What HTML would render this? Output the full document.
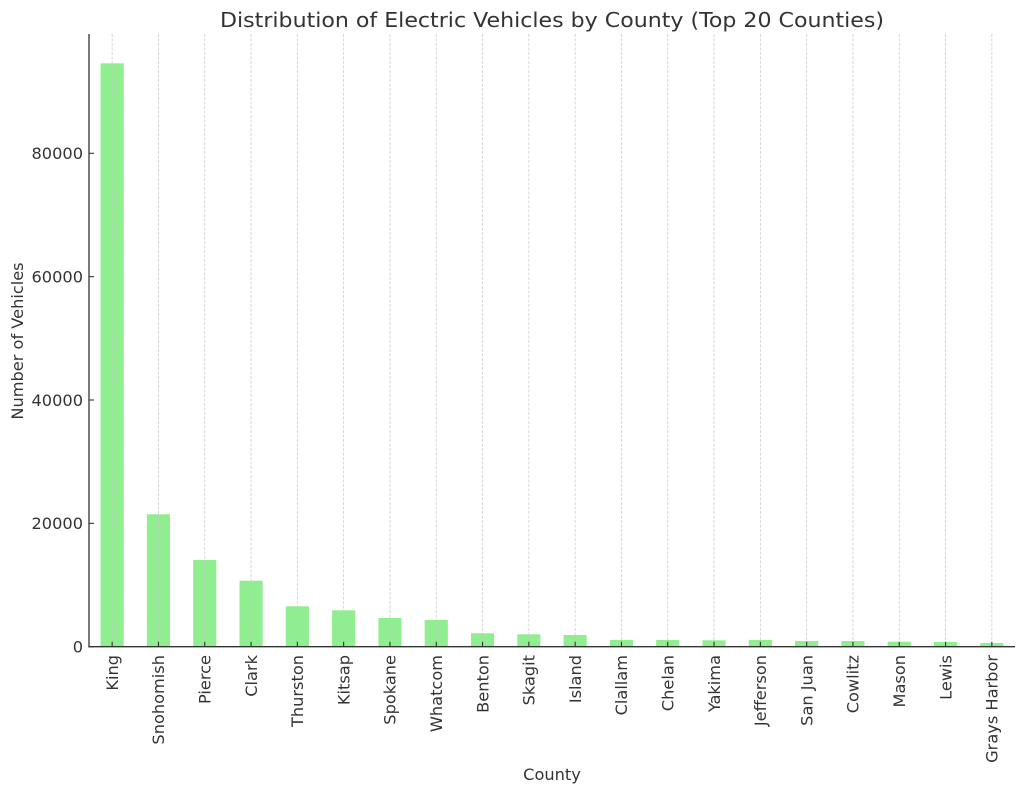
<!DOCTYPE html>
<html>
<head>
<meta charset="utf-8">
<style>
  html, body { margin:0; padding:0; background:#fff; }
  svg { display:block; }
  text { font-family: "DejaVu Sans", "Liberation Sans", sans-serif; fill:#333; }
</style>
</head>
<body>
<svg width="1024" height="794" viewBox="0 0 1024 794" xmlns="http://www.w3.org/2000/svg">
  <rect width="1024" height="794" fill="#fff"/>

  <!-- Title -->
  <text x="552" y="27" font-size="20.4" text-anchor="middle" textLength="664" lengthAdjust="spacingAndGlyphs">Distribution of Electric Vehicles by County (Top 20 Counties)</text>

  <!-- Bars -->
  <g fill="#90EE90">
    <rect x="100.58" y="63.3" width="23.15" height="583.4"/>
    <rect x="146.88" y="514.3" width="23.15" height="132.4"/>
    <rect x="193.18" y="560.0" width="23.15" height="86.7"/>
    <rect x="239.48" y="580.7" width="23.15" height="66.0"/>
    <rect x="285.78" y="606.3" width="23.15" height="40.4"/>
    <rect x="332.08" y="610.3" width="23.15" height="36.4"/>
    <rect x="378.38" y="618.0" width="23.15" height="28.7"/>
    <rect x="424.68" y="620.0" width="23.15" height="26.7"/>
    <rect x="470.98" y="633.3" width="23.15" height="13.4"/>
    <rect x="517.28" y="634.3" width="23.15" height="12.4"/>
    <rect x="563.58" y="635.0" width="23.15" height="11.7"/>
    <rect x="609.88" y="640.0" width="23.15" height="6.7"/>
    <rect x="656.18" y="640.0" width="23.15" height="6.7"/>
    <rect x="702.48" y="640.3" width="23.15" height="6.4"/>
    <rect x="748.78" y="640.0" width="23.15" height="6.7"/>
    <rect x="795.08" y="641.0" width="23.15" height="5.7"/>
    <rect x="841.38" y="641.0" width="23.15" height="5.7"/>
    <rect x="887.68" y="641.7" width="23.15" height="5.0"/>
    <rect x="933.98" y="642.0" width="23.15" height="4.7"/>
    <rect x="980.28" y="643.0" width="23.15" height="3.7"/>
  </g>

  <!-- Vertical dashed grid -->
  <g stroke="#c8c8c8" stroke-width="0.8" stroke-dasharray="3,1.5" opacity="0.9">
    <line x1="112.15" y1="34" x2="112.15" y2="646.7"/>
    <line x1="158.45" y1="34" x2="158.45" y2="646.7"/>
    <line x1="204.75" y1="34" x2="204.75" y2="646.7"/>
    <line x1="251.05" y1="34" x2="251.05" y2="646.7"/>
    <line x1="297.35" y1="34" x2="297.35" y2="646.7"/>
    <line x1="343.65" y1="34" x2="343.65" y2="646.7"/>
    <line x1="389.95" y1="34" x2="389.95" y2="646.7"/>
    <line x1="436.25" y1="34" x2="436.25" y2="646.7"/>
    <line x1="482.55" y1="34" x2="482.55" y2="646.7"/>
    <line x1="528.85" y1="34" x2="528.85" y2="646.7"/>
    <line x1="575.15" y1="34" x2="575.15" y2="646.7"/>
    <line x1="621.45" y1="34" x2="621.45" y2="646.7"/>
    <line x1="667.75" y1="34" x2="667.75" y2="646.7"/>
    <line x1="714.05" y1="34" x2="714.05" y2="646.7"/>
    <line x1="760.35" y1="34" x2="760.35" y2="646.7"/>
    <line x1="806.65" y1="34" x2="806.65" y2="646.7"/>
    <line x1="852.95" y1="34" x2="852.95" y2="646.7"/>
    <line x1="899.25" y1="34" x2="899.25" y2="646.7"/>
    <line x1="945.55" y1="34" x2="945.55" y2="646.7"/>
    <line x1="991.85" y1="34" x2="991.85" y2="646.7"/>
  </g>

  <!-- Spines -->
  <g stroke="#333" stroke-width="1.3" fill="none">
    <line x1="89" y1="34" x2="89" y2="647.3"/>
    <line x1="88.4" y1="646.7" x2="1015" y2="646.7"/>
  </g>

  <!-- Y ticks (inward) -->
  <g stroke="#333" stroke-width="1.1">
    <line x1="89" y1="646.7" x2="94" y2="646.7"/>
    <line x1="89" y1="523.3" x2="94" y2="523.3"/>
    <line x1="89" y1="400.0" x2="94" y2="400.0"/>
    <line x1="89" y1="276.7" x2="94" y2="276.7"/>
    <line x1="89" y1="153.3" x2="94" y2="153.3"/>
  </g>
  <!-- X ticks (inward) -->
  <g stroke="#333" stroke-width="1.1">
    <line x1="112.15" y1="646.7" x2="112.15" y2="641.7"/>
    <line x1="158.45" y1="646.7" x2="158.45" y2="641.7"/>
    <line x1="204.75" y1="646.7" x2="204.75" y2="641.7"/>
    <line x1="251.05" y1="646.7" x2="251.05" y2="641.7"/>
    <line x1="297.35" y1="646.7" x2="297.35" y2="641.7"/>
    <line x1="343.65" y1="646.7" x2="343.65" y2="641.7"/>
    <line x1="389.95" y1="646.7" x2="389.95" y2="641.7"/>
    <line x1="436.25" y1="646.7" x2="436.25" y2="641.7"/>
    <line x1="482.55" y1="646.7" x2="482.55" y2="641.7"/>
    <line x1="528.85" y1="646.7" x2="528.85" y2="641.7"/>
    <line x1="575.15" y1="646.7" x2="575.15" y2="641.7"/>
    <line x1="621.45" y1="646.7" x2="621.45" y2="641.7"/>
    <line x1="667.75" y1="646.7" x2="667.75" y2="641.7"/>
    <line x1="714.05" y1="646.7" x2="714.05" y2="641.7"/>
    <line x1="760.35" y1="646.7" x2="760.35" y2="641.7"/>
    <line x1="806.65" y1="646.7" x2="806.65" y2="641.7"/>
    <line x1="852.95" y1="646.7" x2="852.95" y2="641.7"/>
    <line x1="899.25" y1="646.7" x2="899.25" y2="641.7"/>
    <line x1="945.55" y1="646.7" x2="945.55" y2="641.7"/>
    <line x1="991.85" y1="646.7" x2="991.85" y2="641.7"/>
  </g>

  <!-- Y tick labels -->
  <g font-size="16.2" text-anchor="end">
    <text x="83" y="652.5">0</text>
    <text x="83" y="529.1">20000</text>
    <text x="83" y="405.8">40000</text>
    <text x="83" y="282.5">60000</text>
    <text x="83" y="159.1">80000</text>
  </g>

  <!-- X tick labels (rotated) -->
  <g font-size="16.2" text-anchor="end">
    <text transform="translate(117.9,655) rotate(-90)">King</text>
    <text transform="translate(164.2,655) rotate(-90)">Snohomish</text>
    <text transform="translate(210.5,655) rotate(-90)">Pierce</text>
    <text transform="translate(256.8,655) rotate(-90)">Clark</text>
    <text transform="translate(303.1,655) rotate(-90)">Thurston</text>
    <text transform="translate(349.4,655) rotate(-90)">Kitsap</text>
    <text transform="translate(395.7,655) rotate(-90)">Spokane</text>
    <text transform="translate(442.0,655) rotate(-90)">Whatcom</text>
    <text transform="translate(488.3,655) rotate(-90)">Benton</text>
    <text transform="translate(534.6,655) rotate(-90)">Skagit</text>
    <text transform="translate(580.9,655) rotate(-90)">Island</text>
    <text transform="translate(627.2,655) rotate(-90)">Clallam</text>
    <text transform="translate(673.5,655) rotate(-90)">Chelan</text>
    <text transform="translate(719.8,655) rotate(-90)">Yakima</text>
    <text transform="translate(766.1,655) rotate(-90)">Jefferson</text>
    <text transform="translate(812.4,655) rotate(-90)">San Juan</text>
    <text transform="translate(858.7,655) rotate(-90)">Cowlitz</text>
    <text transform="translate(905.0,655) rotate(-90)">Mason</text>
    <text transform="translate(951.3,655) rotate(-90)">Lewis</text>
    <text transform="translate(997.6,655) rotate(-90)">Grays Harbor</text>
  </g>

  <!-- Axis labels -->
  <text x="552" y="780" font-size="16.2" text-anchor="middle">County</text>
  <text transform="translate(23,341) rotate(-90)" font-size="16.2" text-anchor="middle">Number of Vehicles</text>
</svg>
</body>
</html>
